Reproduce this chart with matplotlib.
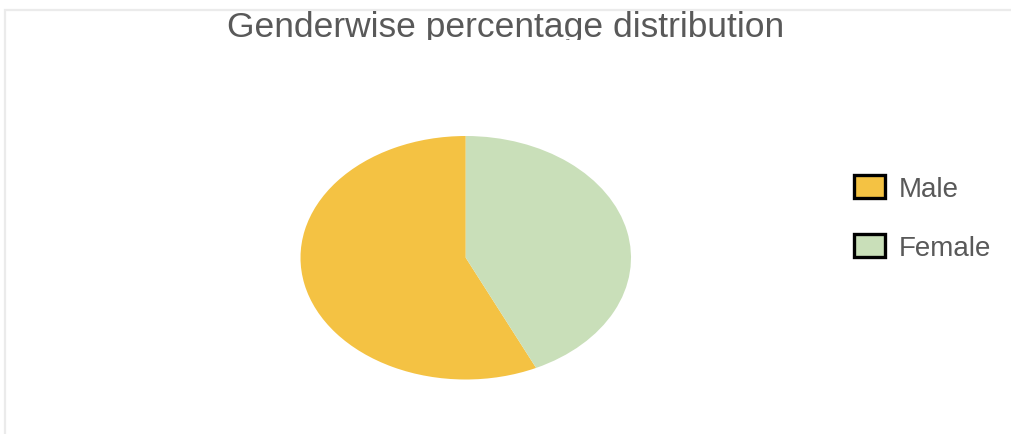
import matplotlib
matplotlib.use("Agg")
import matplotlib.pyplot as plt
from matplotlib.patches import Rectangle, Patch
from matplotlib.transforms import Bbox

categories = ["Male", "Female"]
percentages = [57, 43]
colors = ["#F4C243", "#C9DFB9"]
title = "Genderwise percentage distribution"

W, H = 1011, 435
fig = plt.figure(figsize=(W / 100, H / 100), dpi=100)
fig.patch.set_facecolor("white")

# light frame
fig.add_artist(Rectangle((4.5 / W, -0.1), 1.2, 1.1 - 10.5 / H, transform=fig.transFigure,
                         fill=False, edgecolor="#EBEBEB", lw=1.6))

ax = fig.add_axes([300.5 / W, (H - 380.5) / H, 330.5 / W, 243.5 / H])
ax.pie(percentages, colors=colors, startangle=90, counterclock=True, radius=1,
       wedgeprops=dict(linewidth=0))
ax.set_xlim(-1, 1)
ax.set_ylim(-1, 1)
ax.set_aspect("auto")
ax.axis("off")

t = fig.text(506 / W, 1 - 37.5 / H, title, ha="center", va="baseline",
             fontsize=25.5, color="#595959", family="Liberation Sans")
t.set_clip_box(Bbox([[0, H - 40.5], [W, H]]))
t.set_clip_on(True)

handles = [Patch(facecolor=c, edgecolor="black", linewidth=2.4) for c in colors]
leg = fig.legend(handles, categories, loc="center left",
                 bbox_to_anchor=(854 / W, 1 - 219 / H), frameon=False,
                 borderpad=0, borderaxespad=0,
                 prop={"family": "Liberation Sans", "size": 20},
                 handlelength=1.1, handleheight=0.9, labelspacing=1.15,
                 handletextpad=0.5, labelcolor="#595959")

fig.savefig("out.png", dpi=100, facecolor="white")
